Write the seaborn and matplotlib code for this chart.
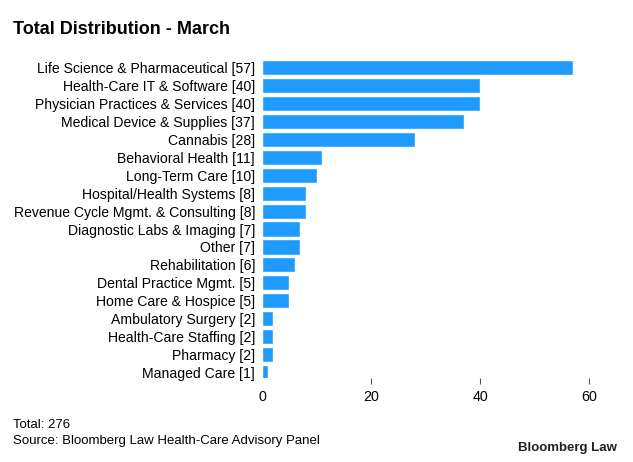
import matplotlib
matplotlib.use("Agg")
import matplotlib.pyplot as plt
import seaborn as sns
import pandas as pd

categories = ['Life Science & Pharmaceutical', 'Health-Care IT & Software',
              'Physician Practices & Services', 'Medical Device & Supplies',
              'Cannabis', 'Behavioral Health', 'Long-Term Care',
              'Hospital/Health Systems', 'Revenue Cycle Mgmt. & Consulting',
              'Diagnostic Labs & Imaging', 'Other', 'Rehabilitation',
              'Dental Practice Mgmt.', 'Home Care & Hospice',
              'Ambulatory Surgery', 'Health-Care Staffing', 'Pharmacy',
              'Managed Care']
counts = [57, 40, 40, 37, 28, 11, 10, 8, 8, 7, 7, 6, 5, 5, 2, 2, 2, 1]
xticks = [0, 20, 40, 60]

sns.set_style("white")
plt.rcParams['font.family'] = ['Liberation Sans', 'DejaVu Sans']

labels = [f"{c} [{v}]" for c, v in zip(categories, counts)]
df = pd.DataFrame({'label': labels, 'count': counts})

fig = plt.figure(figsize=(6.33, 4.62), dpi=100)
ax = fig.add_axes([0.414, 0.1825, 0.534, 0.69])
sns.barplot(data=df, x='count', y='label', color='#1f9bff', width=0.85,
            saturation=1, ax=ax)
ax.set_xlim(0, 62)
ax.set_ylim(17.3, -0.5)
ax.set_xticks(xticks)
ax.set_xlabel('')
ax.set_ylabel('')
for s in ax.spines.values():
    s.set_visible(False)
ax.tick_params(axis='x', length=4, width=0.8, color='#555555', pad=5,
               labelsize=10.3, labelcolor='black', direction='out', bottom=True)
ax.tick_params(axis='y', length=0, pad=5, labelsize=10.1, labelcolor='black')
ax.xaxis.get_ticklines()[0].set_visible(False)

fig.text(13/633, 1 - 30/462, 'Total Distribution - March', fontsize=13,
         fontweight='bold', va='center', ha='left', color='black')
fig.text(13/633, 1 - 425/462, 'Total: 276', fontsize=9.5, va='center',
         color='black')
fig.text(13/633, 1 - 441/462, 'Source: Bloomberg Law Health-Care Advisory Panel',
         fontsize=9.5, va='center', color='black')
fig.text(617/633, 1 - 448/462, 'Bloomberg Law', fontsize=9.5,
         fontweight='bold', va='center', ha='right', color='#222222')

fig.savefig('out.png', dpi=100)
